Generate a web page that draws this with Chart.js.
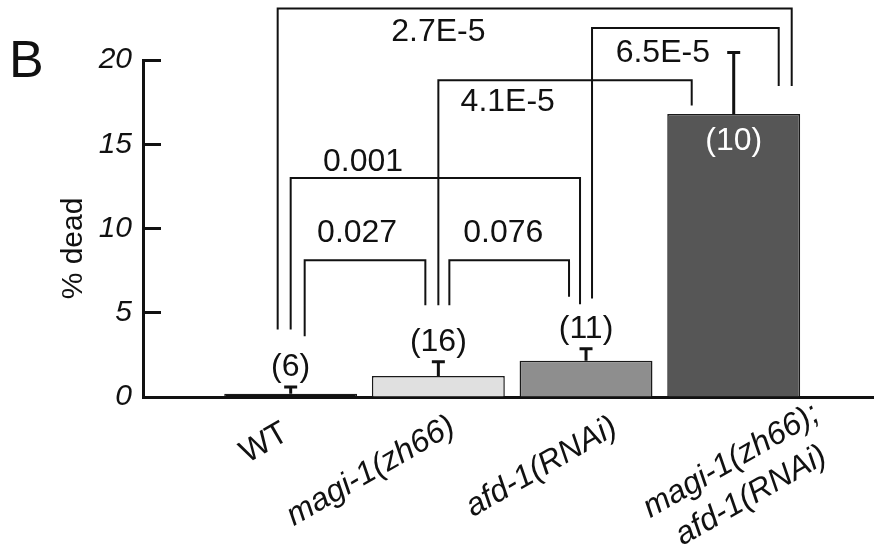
<!DOCTYPE html>
<html>
<head>
<meta charset="utf-8">
<script src="https://cdn.jsdelivr.net/npm/chart.js@4.4.1/dist/chart.umd.min.js"></script>
<style>
  html, body { margin: 0; padding: 0; background: #fff; }
  #wrap { width: 874px; height: 551px; }
</style>
</head>
<body>
<div id="wrap"><canvas id="myChart"></canvas></div>
<script>
// data
const categories = [['WT'], ['magi-1(zh66)'], ['afd-1(RNAi)'], ['magi-1(zh66);', 'afd-1(RNAi)']];
const deadPct = [0.2, 1.25, 2.15, 16.8];
const errTop = [0.6, 2.09, 2.87, 20.45];
const nWorms = ['(6)', '(16)', '(11)', '(10)'];
const barColors = ['#111111', '#e0e0e0', '#8e8e8e', '#565656'];

// p-value brackets: from bar, to bar, level (y), leg ends (y)
const pValues = ['0.027', '0.076', '0.001', '4.1E-5', '6.5E-5', '2.7E-5'];
const pFrom = [0, 1, 0, 1, 2, 0];
const pTo = [1, 2, 2, 3, 3, 3];
const pLevel = [8.12, 8.12, 13.0, 18.8, 21.9, 23.05];
const pFromEnd = [3.6, 5.45, 4.0, 5.45, 5.85, 4.0];
const pToEnd = [5.45, 5.95, 5.5, 17.3, 18.45, 18.45];
const pTextX = [0.45, 1.44, 0.49, 1.47, 2.52, 1.0];
const pTextY = [9.19, 9.19, 13.43, 17.0, 19.88, 21.13];

// layout nudges (px)
const legFromDx = [14, 11, 0, 0, 6, -13];
const legToDx = [-13, -17, -6, -42, 45, 58];
const labelDx = [-22, -63, -40, 2];
const labelDy = [54, 82, 78, 72];

const FONT = "'Liberation Sans', Arial, sans-serif";
const INK = '#111';

const overlay = {
  id: 'overlay',
  afterDatasetsDraw(chart) {
    const { ctx, scales: { x, y } } = chart;
    ctx.save();
    ctx.strokeStyle = INK;
    ctx.fillStyle = INK;

    // error bars (upper only)
    ctx.lineWidth = 3;
    errTop.forEach((e, i) => {
      const px = x.getPixelForValue(i);
      const y0 = y.getPixelForValue(deadPct[i]);
      const y1 = y.getPixelForValue(e);
      ctx.beginPath();
      ctx.moveTo(px, y0);
      ctx.lineTo(px, y1);
      ctx.moveTo(px - 6.5, y1);
      ctx.lineTo(px + 6.5, y1);
      ctx.stroke();
    });

    // n counts
    ctx.font = '32px ' + FONT;
    ctx.textAlign = 'center';
    ctx.textBaseline = 'alphabetic';
    nWorms.forEach((t, i) => {
      const px = x.getPixelForValue(i);
      if (deadPct[i] > 10) {
        ctx.fillStyle = '#fff';
        ctx.fillText(t, px, y.getPixelForValue(deadPct[i]) + 36);
      } else {
        ctx.fillStyle = INK;
        ctx.fillText(t, px, y.getPixelForValue(errTop[i]) - 11);
      }
    });
    ctx.fillStyle = INK;

    // brackets
    ctx.lineWidth = 2;
    pValues.forEach((p, k) => {
      const xa = x.getPixelForValue(pFrom[k]) + legFromDx[k];
      const xb = x.getPixelForValue(pTo[k]) + legToDx[k];
      const yl = y.getPixelForValue(pLevel[k]);
      ctx.beginPath();
      ctx.moveTo(xa, y.getPixelForValue(pFromEnd[k]));
      ctx.lineTo(xa, yl);
      ctx.lineTo(xb, yl);
      ctx.lineTo(xb, y.getPixelForValue(pToEnd[k]));
      ctx.stroke();
      ctx.fillText(p, x.getPixelForValue(pTextX[k]), y.getPixelForValue(pTextY[k]));
    });

    // category labels, rotated
    const ang = -30 * Math.PI / 180;
    categories.forEach((lines, i) => {
      ctx.save();
      ctx.translate(x.getPixelForValue(i) + labelDx[i], y.bottom + labelDy[i]);
      ctx.rotate(ang);
      ctx.font = (i === 0 ? '' : 'italic ') + '32px ' + FONT;
      ctx.textAlign = 'center';
      lines.forEach((ln, j) => ctx.fillText(ln, 0, j * 40));
      ctx.restore();
    });

    // axis title
    ctx.save();
    ctx.translate(82, (y.top + y.bottom) / 2 + 20);
    ctx.rotate(-Math.PI / 2);
    ctx.font = '30px ' + FONT;
    ctx.textAlign = 'center';
    ctx.fillText('% dead', 0, 0);
    ctx.restore();

    // panel letter
    ctx.font = '52px ' + FONT;
    ctx.textAlign = 'left';
    ctx.fillText('B', 9, 77);
    ctx.restore();
  }
};

new Chart(document.getElementById('myChart'), {
  type: 'bar',
  data: {
    datasets: [{
      data: deadPct.map((v, i) => ({ x: i, y: v })),
      backgroundColor: barColors,
      borderColor: '#1a1a1a',
      borderWidth: 1.5,
      borderSkipped: 'bottom',
      barPercentage: 0.9,
      categoryPercentage: 1.0
    }]
  },
  options: {
    responsive: true,
    maintainAspectRatio: false,
    animation: false,
    devicePixelRatio: 1,
    layout: { padding: { top: 60, right: 0, bottom: 0, left: 0 } },
    plugins: { legend: { display: false }, tooltip: { enabled: false } },
    scales: {
      x: {
        type: 'linear',
        offset: false,
        min: -1,
        max: 3.95,
        ticks: { display: false, stepSize: 1, includeBounds: false },
        grid: { display: false, offset: false },
        border: { display: true, color: INK, width: 3 },
        afterFit(scale) { scale.height = 154; }
      },
      y: {
        min: 0,
        max: 20,
        ticks: {
          stepSize: 5,
          padding: 29,
          color: INK,
          font: { family: FONT, size: 30, style: 'italic' }
        },
        grid: { drawOnChartArea: false, tickLength: -18, tickWidth: 3, color: INK },
        border: { display: true, color: INK, width: 3 },
        afterFit(scale) { scale.width = 143; }
      }
    }
  },
  plugins: [overlay]
});
</script>
</body>
</html>
